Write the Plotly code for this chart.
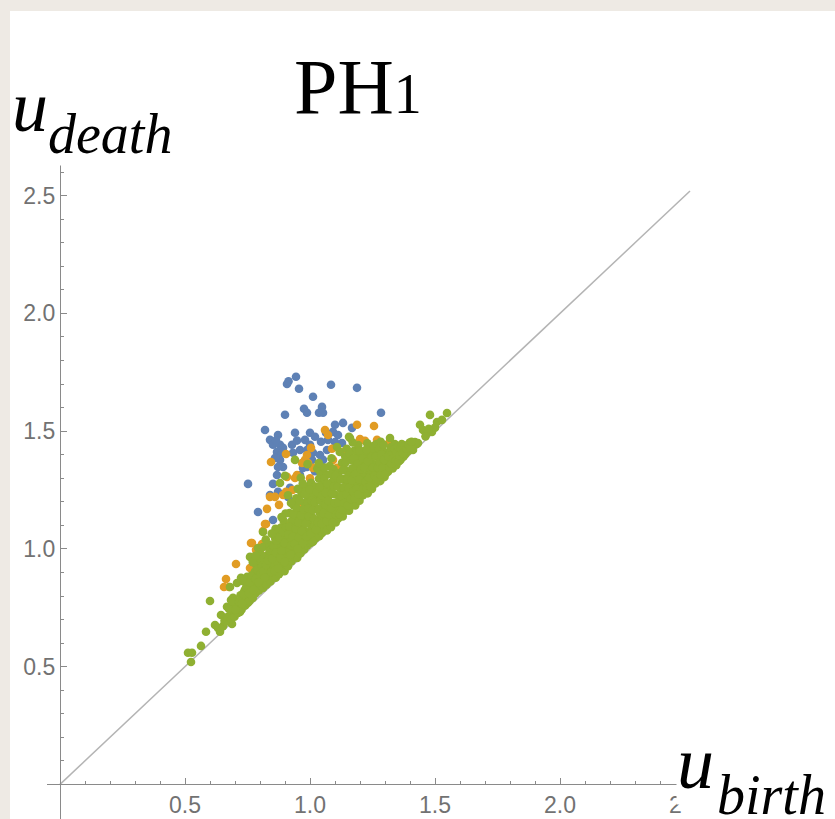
import plotly.graph_objects as go

# ---------------- data ----------------
blue_pts = [
    (0.944, 1.731), (0.908, 1.700), (0.914, 1.712), (0.956, 1.680), (1.084, 1.697),
    (1.188, 1.684), (1.012, 1.646), (0.976, 1.595), (0.988, 1.578), (1.048, 1.603),
    (1.036, 1.578), (1.052, 1.578), (0.900, 1.570), (1.284, 1.578), (0.820, 1.505),
    (0.872, 1.484), (0.840, 1.463), (0.940, 1.493), (1.000, 1.493), (1.020, 1.476),
    (1.100, 1.527), (1.132, 1.535), (1.168, 1.514), (1.064, 1.493), (1.092, 1.497),
    (1.112, 1.484), (1.072, 1.463), (1.100, 1.454), (1.128, 1.450), (0.852, 1.442),
    (0.880, 1.442), (0.892, 1.429), (0.868, 1.412), (0.888, 1.408), (0.880, 1.378),
    (0.860, 1.386), (0.892, 1.348), (0.872, 1.348), (0.928, 1.442), (0.932, 1.408),
    (0.960, 1.420), (0.980, 1.463), (1.000, 1.442), (0.988, 1.420), (1.012, 1.408),
    (1.008, 1.378), (0.988, 1.348), (0.972, 1.344), (1.068, 1.420), (1.040, 1.399),
    (1.052, 1.378), (0.752, 1.276), (0.852, 1.276), (0.872, 1.242), (0.868, 1.314),
    (0.840, 1.229), (0.792, 1.157), (0.912, 1.221), (0.920, 1.259), (0.852, 1.123),
    (0.864, 1.460), (1.044, 1.455), (0.948, 1.460), (0.960, 1.314), (1.020, 1.330),
]

orange_pts = [
    (1.188, 1.527), (1.256, 1.522), (1.060, 1.505), (1.072, 1.484), (1.200, 1.467),
    (1.220, 1.459), (1.268, 1.463), (1.316, 1.450), (1.004, 1.429), (1.088, 1.425),
    (1.140, 1.416), (0.904, 1.403), (0.988, 1.399), (0.980, 1.378), (0.992, 1.365),
    (0.968, 1.365), (0.844, 1.369), (0.948, 1.314), (0.940, 1.301), (0.908, 1.306),
    (1.012, 1.344), (0.972, 1.268), (1.012, 1.259), (0.840, 1.221), (0.860, 1.221),
    (0.892, 1.229), (0.904, 1.242), (0.876, 1.187), (0.828, 1.170), (0.908, 1.098),
    (0.824, 1.106), (0.812, 1.076), (0.764, 1.025), (0.808, 1.021), (0.788, 0.992),
    (0.952, 1.183), (1.092, 1.378), (1.108, 1.344), (0.704, 0.936), (0.760, 0.919),
    (0.664, 0.872), (0.656, 0.838), (0.676, 0.838), (0.768, 1.025), (0.784, 0.996),
    (0.800, 0.987), (0.820, 1.106), (1.000, 1.300), (1.050, 1.310), (0.930, 1.250),
]

green_pts = [
    # lower-left tail
    (0.524, 0.520), (0.512, 0.559), (0.528, 0.559), (0.564, 0.588), (0.584, 0.648),
    (0.620, 0.677), (0.632, 0.664), (0.640, 0.648), (0.688, 0.681), (0.644, 0.719),
    (0.600, 0.779), (0.676, 0.750), (0.668, 0.754), (0.708, 0.728), (0.720, 0.732),
    (0.684, 0.783), (0.692, 0.792), (0.720, 0.771), (0.680, 0.838), (0.708, 0.855),
    (0.724, 0.877), (0.748, 0.881), (0.760, 0.966), (0.792, 1.004), (0.812, 1.008),
    (0.812, 1.072), (0.652, 0.672), (0.658, 0.695),
    # 0.66 - 0.70
    (0.662, 0.690), (0.671, 0.712), (0.684, 0.703), (0.693, 0.735), (0.676, 0.745),
    (0.698, 0.712), (0.705, 0.760), (0.689, 0.778),
    # 0.71 - 0.75
    (0.712, 0.728), (0.718, 0.752), (0.726, 0.742), (0.731, 0.781), (0.722, 0.803),
    (0.741, 0.760), (0.746, 0.795), (0.738, 0.823), (0.749, 0.852), (0.735, 0.862),
    (0.752, 0.772),
    # 0.76 - 0.80
    (0.758, 0.779), (0.763, 0.806), (0.771, 0.792), (0.768, 0.838), (0.776, 0.861),
    (0.782, 0.812), (0.787, 0.846), (0.791, 0.885), (0.779, 0.903), (0.796, 0.823),
    (0.801, 0.866), (0.786, 0.930), (0.797, 0.952), (0.771, 0.944), (0.806, 0.842),
    # 0.81 - 0.85
    (0.812, 0.834), (0.816, 0.862), (0.821, 0.891), (0.826, 0.848), (0.831, 0.918),
    (0.818, 0.947), (0.836, 0.876), (0.842, 0.862), (0.839, 0.905), (0.846, 0.941),
    (0.829, 0.972), (0.851, 0.884), (0.848, 0.995), (0.837, 1.018), (0.823, 1.040),
    (0.852, 0.925), (0.856, 0.968), (0.861, 1.043),
    # 0.86 - 0.90
    (0.863, 0.878), (0.867, 0.906), (0.871, 0.941), (0.876, 0.893), (0.878, 0.972),
    (0.882, 1.005), (0.887, 0.918), (0.891, 0.951), (0.889, 1.031), (0.872, 1.066),
    (0.895, 0.982), (0.898, 0.905), (0.903, 1.012), (0.884, 1.091), (0.901, 1.055),
    (0.906, 0.932), (0.895, 1.118), (0.869, 1.012),
    # 0.91 - 0.95
    (0.912, 0.926), (0.915, 0.962), (0.919, 0.994), (0.921, 1.038), (0.926, 0.948),
    (0.928, 1.074), (0.932, 1.012), (0.936, 0.968), (0.939, 1.101), (0.941, 1.045),
    (0.944, 0.991), (0.947, 1.131), (0.949, 0.962), (0.952, 1.068), (0.918, 1.152),
    (0.935, 1.185), (0.954, 1.022), (0.926, 1.118), (0.945, 1.215), (0.912, 1.228),
    (0.957, 1.162),
    # 0.96 - 1.00
    (0.962, 0.982), (0.965, 1.011), (0.968, 1.049), (0.971, 1.088), (0.974, 1.124),
    (0.977, 0.998), (0.981, 1.035), (0.984, 1.071), (0.987, 1.152), (0.989, 1.015),
    (0.992, 1.112), (0.995, 1.048), (0.998, 1.191), (1.002, 1.025), (1.005, 1.085),
    (0.966, 1.238), (0.982, 1.262), (1.008, 1.136), (0.991, 1.222), (0.978, 1.195),
    (1.004, 1.281), (0.963, 1.302),
    # 1.01 - 1.05
    (1.012, 1.031), (1.015, 1.062), (1.018, 1.098), (1.022, 1.045), (1.025, 1.171),
    (1.028, 1.121), (1.031, 1.078), (1.034, 1.208), (1.037, 1.054), (1.039, 1.152),
    (1.042, 1.096), (1.045, 1.245), (1.048, 1.068), (1.051, 1.132), (1.054, 1.185),
    (1.021, 1.265), (1.036, 1.298), (1.043, 1.321), (1.058, 1.082), (1.013, 1.228),
    (1.055, 1.274), (1.029, 1.341),
    # 1.06 - 1.10
    (1.062, 1.102), (1.065, 1.142), (1.068, 1.078), (1.071, 1.218), (1.074, 1.168),
    (1.077, 1.112), (1.081, 1.256), (1.084, 1.092), (1.087, 1.195), (1.089, 1.138),
    (1.092, 1.289), (1.095, 1.118), (1.098, 1.232), (1.101, 1.161), (1.066, 1.315),
    (1.079, 1.352), (1.094, 1.338), (1.103, 1.112), (1.072, 1.262), (1.105, 1.268),
    (1.086, 1.385),
    # 1.11 - 1.15
    (1.112, 1.128), (1.115, 1.172), (1.118, 1.214), (1.121, 1.145), (1.124, 1.252),
    (1.127, 1.192), (1.131, 1.138), (1.134, 1.298), (1.137, 1.231), (1.139, 1.162),
    (1.142, 1.335), (1.145, 1.271), (1.148, 1.168), (1.151, 1.209), (1.113, 1.321),
    (1.128, 1.366), (1.141, 1.392), (1.154, 1.318), (1.119, 1.412), (1.147, 1.425),
    (1.156, 1.162),
    # 1.16 - 1.20
    (1.162, 1.181), (1.165, 1.225), (1.168, 1.265), (1.171, 1.198), (1.174, 1.308),
    (1.177, 1.242), (1.181, 1.185), (1.184, 1.352), (1.187, 1.281), (1.189, 1.215),
    (1.192, 1.395), (1.195, 1.322), (1.198, 1.205), (1.201, 1.258), (1.166, 1.378),
    (1.178, 1.418), (1.193, 1.441), (1.204, 1.365), (1.171, 1.452), (1.206, 1.232),
    # 1.21 - 1.25
    (1.212, 1.228), (1.215, 1.272), (1.218, 1.312), (1.221, 1.245), (1.224, 1.355),
    (1.227, 1.292), (1.231, 1.236), (1.234, 1.398), (1.237, 1.331), (1.239, 1.262),
    (1.242, 1.428), (1.245, 1.368), (1.248, 1.255), (1.251, 1.302), (1.216, 1.415),
    (1.229, 1.448), (1.254, 1.412), (1.256, 1.278),
    # 1.26 - 1.30
    (1.262, 1.278), (1.265, 1.318), (1.268, 1.358), (1.271, 1.296), (1.274, 1.402),
    (1.277, 1.338), (1.281, 1.288), (1.284, 1.432), (1.287, 1.375), (1.289, 1.312),
    (1.292, 1.418), (1.295, 1.352), (1.298, 1.305), (1.301, 1.392), (1.266, 1.445),
    (1.283, 1.455), (1.304, 1.338),
    # 1.31 - 1.35
    (1.312, 1.328), (1.315, 1.368), (1.318, 1.405), (1.321, 1.345), (1.324, 1.432),
    (1.327, 1.385), (1.331, 1.342), (1.334, 1.418), (1.337, 1.362), (1.339, 1.445),
    (1.342, 1.398), (1.345, 1.355), (1.348, 1.428), (1.351, 1.378),
    # 1.36 - 1.40
    (1.362, 1.378), (1.365, 1.412), (1.368, 1.395), (1.371, 1.435), (1.374, 1.392),
    (1.377, 1.418), (1.381, 1.402), (1.384, 1.438), (1.388, 1.412), (1.392, 1.428),
    (1.396, 1.418), (1.399, 1.452),
    # 1.41 +
    (1.412, 1.420), (1.420, 1.454), (1.428, 1.446), (1.432, 1.450), (1.440, 1.527),
    (1.452, 1.505), (1.468, 1.493), (1.480, 1.569), (1.488, 1.497), (1.500, 1.515),
    (1.508, 1.539), (1.528, 1.548), (1.548, 1.577), (1.462, 1.478), (1.475, 1.510),
    # sparse upper points
    (0.940, 1.378), (0.880, 1.280), (1.108, 1.433), (1.160, 1.471), (1.320, 1.471),
    (0.900, 1.310), (0.990, 1.360), (1.156, 1.476),
    # extra points filling the dense band
    (0.702, 0.742), (0.716, 0.775), (0.728, 0.768), (0.733, 0.810), (0.744, 0.835),
    (0.756, 0.812), (0.761, 0.858), (0.766, 0.887), (0.774, 0.826), (0.781, 0.872),
    (0.789, 0.912), (0.794, 0.858), (0.803, 0.895), (0.808, 0.928), (0.805, 0.975),
    (0.783, 0.972),
    (0.814, 0.905), (0.819, 0.878), (0.824, 0.932), (0.833, 0.952), (0.838, 0.992),
    (0.844, 0.902), (0.849, 0.958), (0.853, 1.012), (0.858, 0.908), (0.864, 0.985),
    (0.866, 1.035), (0.873, 0.918), (0.877, 1.048), (0.881, 0.962), (0.886, 0.992),
    (0.892, 1.072), (0.897, 1.025), (0.899, 0.945), (0.905, 1.092), (0.902, 1.150),
    (0.886, 1.135), (0.862, 1.085), (0.847, 1.065),
    (0.914, 1.062), (0.917, 1.095), (0.923, 0.975), (0.925, 1.015), (0.931, 1.052),
    (0.934, 1.148), (0.938, 1.022), (0.943, 1.088), (0.946, 1.175), (0.951, 1.002),
    (0.953, 1.112), (0.956, 1.048), (0.959, 1.205), (0.964, 1.142), (0.967, 1.076),
    (0.972, 1.025), (0.975, 1.168), (0.979, 1.232), (0.983, 1.108), (0.986, 1.052),
    (0.993, 1.172), (0.996, 1.138), (0.999, 1.252), (1.003, 1.065), (1.006, 1.205),
    (0.924, 1.195), (0.951, 1.255), (0.971, 1.278),
    (1.011, 1.165), (1.016, 1.128), (1.019, 1.198), (1.024, 1.082), (1.027, 1.242),
    (1.032, 1.112), (1.035, 1.168), (1.038, 1.265), (1.041, 1.205), (1.046, 1.108),
    (1.049, 1.228), (1.053, 1.152), (1.057, 1.298), (1.061, 1.188), (1.063, 1.238),
    (1.067, 1.118), (1.069, 1.278), (1.073, 1.205), (1.076, 1.145), (1.082, 1.318),
    (1.085, 1.172), (1.088, 1.235), (1.091, 1.112), (1.096, 1.265), (1.099, 1.195),
    (1.102, 1.312), (1.104, 1.145), (1.058, 1.345), (1.035, 1.365),
    (1.111, 1.265), (1.114, 1.198), (1.117, 1.148), (1.122, 1.295), (1.125, 1.225),
    (1.129, 1.168), (1.132, 1.335), (1.135, 1.262), (1.138, 1.195), (1.143, 1.368),
    (1.146, 1.232), (1.149, 1.295), (1.152, 1.185), (1.155, 1.258), (1.158, 1.405),
    (1.163, 1.212), (1.167, 1.292), (1.169, 1.342), (1.173, 1.242), (1.176, 1.385),
    (1.179, 1.215), (1.182, 1.318), (1.186, 1.255), (1.191, 1.362), (1.194, 1.232),
    (1.197, 1.295), (1.199, 1.418), (1.203, 1.338),
    (1.211, 1.385), (1.213, 1.258), (1.217, 1.345), (1.222, 1.285), (1.226, 1.422),
    (1.228, 1.258), (1.232, 1.372), (1.236, 1.302), (1.241, 1.265), (1.244, 1.335),
    (1.247, 1.392), (1.252, 1.345), (1.255, 1.438), (1.258, 1.312), (1.263, 1.392),
    (1.267, 1.298), (1.272, 1.345), (1.276, 1.425), (1.279, 1.368), (1.282, 1.315),
    (1.286, 1.402), (1.291, 1.345), (1.294, 1.442), (1.297, 1.378), (1.302, 1.318),
    (1.313, 1.392), (1.317, 1.345), (1.322, 1.418), (1.326, 1.362), (1.329, 1.402),
    (1.333, 1.385), (1.338, 1.425), (1.343, 1.375), (1.347, 1.408), (1.352, 1.435),
    (1.356, 1.372), (1.358, 1.398), (1.363, 1.428), (1.367, 1.445), (1.372, 1.405),
    (1.379, 1.438), (1.386, 1.425), (1.394, 1.442), (1.402, 1.432), (1.406, 1.455),
]

diag_end = 2.52
x_ticks = [0.5, 1.0, 1.5, 2.0, 2.5]
x_ticktext = ["0.5", "1.0", "1.5", "2.0", "2<span style='color:rgba(0,0,0,0)'>.5</span>"]
y_ticks = [0.5, 1.0, 1.5, 2.0, 2.5]
y_ticktext = ["0.5", "1.0", "1.5", "2.0", "2.5"]
minor_ticks = [round(i * 0.1, 1) for i in range(1, 27) if i % 5 != 0]

title_text = "PH<span style='font-size:56px'>1</span>"
ylabel_main, ylabel_sub = "u", "death"
xlabel_main, xlabel_sub = "u", "birth"

BLUE, ORANGE, GREEN = "#5E81B5", "#E19C24", "#8FB032"

# ---------------- figure geometry ----------------
W, H = 835, 819
L, R, T, B = 47, 130, 158, 0
X0, X1 = -0.052, 2.58
Y0, Y1 = -0.147, 2.66


def px_x(p):
    return (p - L) / (W - L - R)


def px_y(p):
    return (H - B - p) / (H - T - B)


fig = go.Figure()
fig.add_trace(go.Scatter(x=[0, diag_end], y=[0, diag_end], mode="lines",
                         line=dict(color="#b4b4b4", width=1.5), hoverinfo="skip"))
for pts, col in ((blue_pts, BLUE), (orange_pts, ORANGE), (green_pts, GREEN)):
    fig.add_trace(go.Scatter(x=[p[0] for p in pts], y=[p[1] for p in pts], mode="markers",
                             marker=dict(color=col, size=8.6, line=dict(width=0))))

axis_common = dict(
    showgrid=False, zeroline=False, showline=True, linecolor="#8a8a8a", linewidth=1.3,
    ticks="inside", ticklen=6, tickwidth=1.2, tickcolor="#8a8a8a",
    tickfont=dict(family="Liberation Sans, Arial, sans-serif", size=23, color="#727272"),
    anchor="free", automargin=False,
)
fig.update_layout(
    width=W, height=H, template="none", showlegend=False,
    margin=dict(l=L, r=R, t=T, b=B, pad=0),
    paper_bgcolor="#eeeae4", plot_bgcolor="white",
    xaxis=dict(range=[X0, X1], tickvals=x_ticks, ticktext=x_ticktext,
               position=(0 - Y0) / (Y1 - Y0),
               minor=dict(tickvals=minor_ticks, ticks="inside", ticklen=3,
                          tickwidth=1.1, tickcolor="#8a8a8a"),
               **axis_common),
    yaxis=dict(range=[Y0, Y1], tickvals=y_ticks, ticktext=y_ticktext,
               position=(0 - X0) / (X1 - X0),
               minor=dict(tickvals=minor_ticks, ticks="inside", ticklen=3,
                          tickwidth=1.1, tickcolor="#8a8a8a"),
               **axis_common),
)

# white slide panel over the beige paper
fig.add_shape(type="rect", xref="paper", yref="paper", layer="below",
              x0=px_x(10), x1=px_x(900), y0=px_y(900), y1=px_y(11),
              fillcolor="white", line=dict(width=0))

serif = "Liberation Serif, Times New Roman, serif"


def label(text, left, top, size, italic=True):
    fig.add_annotation(text=f"<i>{text}</i>" if italic else text,
                       xref="paper", yref="paper", x=px_x(left), y=px_y(top),
                       xanchor="left", yanchor="top", showarrow=False,
                       font=dict(family=serif, size=size, color="black"),
                       bgcolor="white", borderpad=0)


label(title_text, 293, 42, 78, italic=False)
label(ylabel_main, 11, 66, 72)
label(ylabel_sub, 47, 102, 56)
label(xlabel_main, 676, 721, 74)
label(xlabel_sub, 716, 763, 56)

fig.write_html("out.html")
